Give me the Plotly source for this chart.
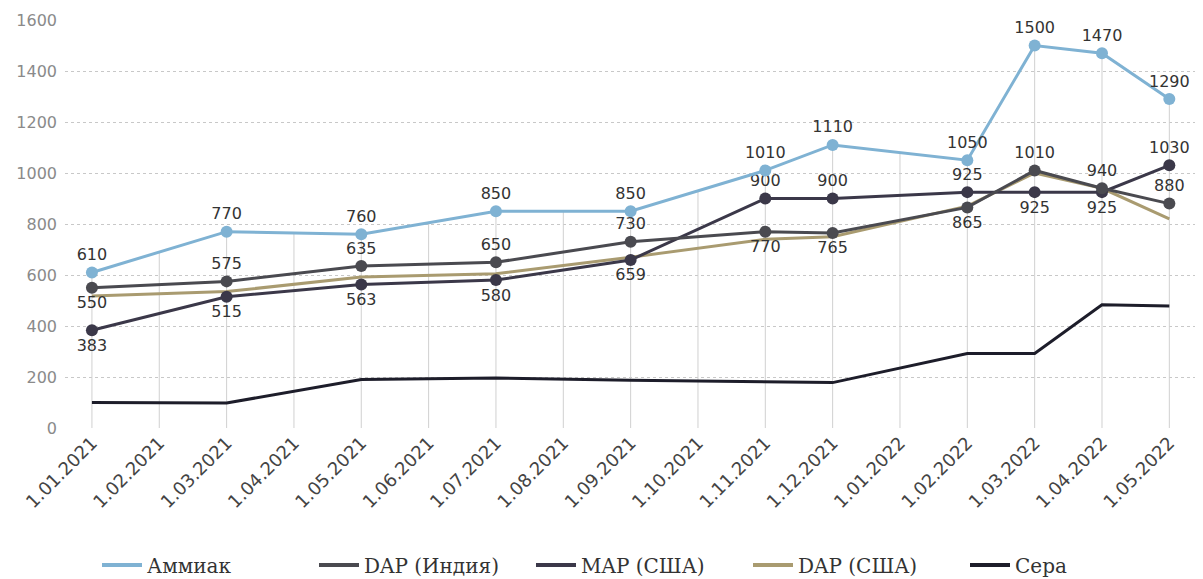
import numpy as np
import plotly.graph_objects as go

months = ["1.01.2021", "1.02.2021", "1.03.2021", "1.04.2021", "1.05.2021", "1.06.2021",
          "1.07.2021", "1.08.2021", "1.09.2021", "1.10.2021", "1.11.2021", "1.12.2021",
          "1.01.2022", "1.02.2022", "1.03.2022", "1.04.2022", "1.05.2022"]

dates = ["1.01.2021", "1.03.2021", "1.05.2021", "1.07.2021", "1.09.2021", "1.11.2021",
         "1.12.2021", "1.02.2022", "1.03.2022", "1.04.2022", "1.05.2022"]

ammonia = [610, 770, 760, 850, 850, 1010, 1110, 1050, 1500, 1470, 1290]
dap_india = [550, 575, 635, 650, 730, 770, 765, 865, 1010, 940, 880]
map_usa = [383, 515, 563, 580, 659, 900, 900, 925, 925, 925, 1030]
dap_usa = [518, 535, 592, 605, 670, 740, 750, 870, 1000, 940, 820]
sulfur = [100, 98, 190, 196, 187, 181, 178, 292, 292, 483, 478]

dap_india_pos = ["bottom center", "top center", "top center", "top center", "top center",
                 "bottom center", "bottom center", "bottom center", "top center", "top center",
                 "top center"]
map_usa_pos = ["bottom center", "bottom center", "bottom center", "bottom center", "bottom center",
               "top center", "top center", "top center", "bottom center", "bottom center",
               "top center"]

C_AMM = "#7fb2d3"
C_DAPI = "#4a4a50"
C_MAP = "#3b3849"
C_DAPU = "#a99b70"
C_S = "#1d1d2a"

label_font = dict(family="DejaVu Sans", size=16, color="#333333")

# vertical guide lines from zero up to the ammonia line
idx_known = [months.index(d) for d in dates]
guide_h = np.interp(np.arange(len(months)), idx_known, ammonia)
gx, gy = [], []
for m, h in zip(months, guide_h):
    gx += [m, m, None]
    gy += [0, float(h), None]

fig = go.Figure()
fig.add_trace(go.Scatter(x=gx, y=gy, mode="lines", line=dict(color="#d0d0d0", width=1),
                         showlegend=False, hoverinfo="skip"))

fig.add_trace(go.Scatter(x=dates, y=sulfur, name="Сера", mode="lines",
                         line=dict(color=C_S, width=3), showlegend=False))
fig.add_trace(go.Scatter(x=dates, y=dap_usa, name="DAP (США)", mode="lines",
                         line=dict(color=C_DAPU, width=3), showlegend=False))
fig.add_trace(go.Scatter(x=dates, y=map_usa, name="MAP (США)", mode="lines+markers+text",
                         line=dict(color=C_MAP, width=3), marker=dict(size=12, color=C_MAP),
                         text=[str(v) for v in map_usa], textposition=map_usa_pos,
                         textfont=label_font, showlegend=False))
fig.add_trace(go.Scatter(x=dates, y=dap_india, name="DAP (Индия)", mode="lines+markers+text",
                         line=dict(color=C_DAPI, width=3), marker=dict(size=12, color=C_DAPI),
                         text=[str(v) for v in dap_india], textposition=dap_india_pos,
                         textfont=label_font, showlegend=False))
fig.add_trace(go.Scatter(x=dates, y=ammonia, name="Аммиак", mode="lines+markers+text",
                         line=dict(color=C_AMM, width=3), marker=dict(size=12, color=C_AMM),
                         text=[str(v) for v in ammonia], textposition="top center",
                         textfont=label_font, showlegend=False))

# legend entries in reference order
for name, col in [("Аммиак", C_AMM), ("DAP (Индия)", C_DAPI), ("MAP (США)", C_MAP),
                  ("DAP (США)", C_DAPU), ("Сера", C_S)]:
    fig.add_trace(go.Scatter(x=[None], y=[None], mode="lines", name=name,
                             line=dict(color=col, width=4), showlegend=True))

fig.update_traces(cliponaxis=False, selector=dict(mode="lines+markers+text"))

# the page body adds an 8px offset, so margins are shifted by 8px
fig.update_layout(
    width=1195, height=579,
    margin=dict(l=57, r=0, t=12, b=159),
    paper_bgcolor="white", plot_bgcolor="white",
    xaxis=dict(type="category", categoryorder="array", categoryarray=months,
               range=[-0.4, 16.5], tickangle=-45, showgrid=False, zeroline=False,
               tickfont=dict(family="DejaVu Sans", size=18, color="#444"),
               showline=False, ticks="", automargin=False),
    yaxis=dict(range=[0, 1600], dtick=200, showgrid=True, gridcolor="#c8c8c8",
               griddash="dot", gridwidth=1, zeroline=False,
               tickfont=dict(family="DejaVu Sans", size=16, color="#8a8a8a"),
               ticks="", ticklabelstandoff=7, automargin=False),
    legend=dict(orientation="h", x=(89 - 57) / 1138, xanchor="left", y=-0.336, yanchor="middle",
                font=dict(family="DejaVu Serif", size=20, color="#333"),
                itemwidth=40, entrywidth=162),
    showlegend=True,
)

fig.write_html("out.html")
